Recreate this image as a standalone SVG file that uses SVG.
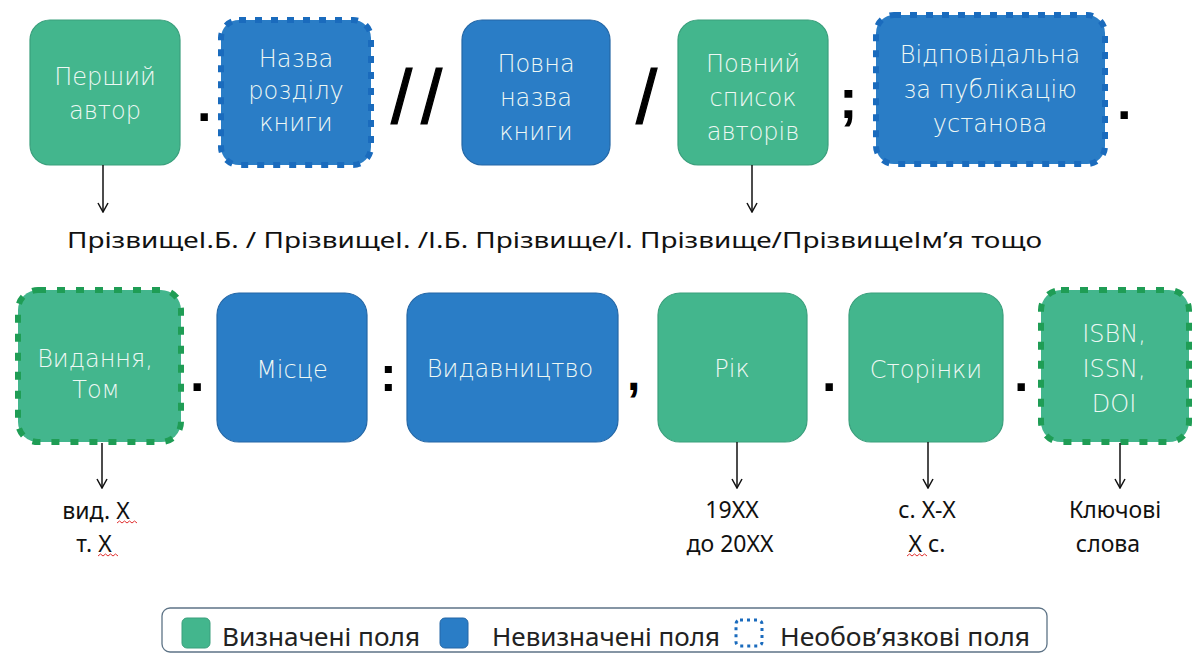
<svg xmlns="http://www.w3.org/2000/svg" width="1192" height="653" viewBox="0 0 1192 653">
<defs>
<style>
.g{fill:#43b68d;stroke:#3a9f7c;stroke-width:1.2}
.b{fill:#2a7dc6;stroke:#2467a6;stroke-width:1.2}
.gd{fill:#43b68d;stroke:#1f9d55;stroke-width:6;stroke-dasharray:8 11}
.bd{fill:#2a7dc6;stroke:#1a6bbd;stroke-width:6;stroke-dasharray:7 9}
.t{font-family:"DejaVu Sans","Noto Sans",sans-serif;font-weight:200;font-size:24px;fill:#eef8f4;text-anchor:middle}
.p{font-family:"Liberation Sans",Arial,sans-serif;font-weight:bold;fill:#000}
.s{font-family:"Liberation Sans",Arial,sans-serif;fill:#000;stroke:#000;stroke-width:1.2}
.l{font-family:"Noto Sans","DejaVu Sans",sans-serif;font-size:23px;fill:#111;text-anchor:middle}
.lg{font-family:"Noto Sans","DejaVu Sans",sans-serif;font-size:26px;fill:#222}
.c{stroke:#111;stroke-width:1.5;fill:none}
.sq{fill:none;stroke:#e03030;stroke-width:1}
</style>
<marker id="ah" viewBox="0 0 12 12" refX="11" refY="6" markerWidth="12" markerHeight="12" markerUnits="userSpaceOnUse" orient="auto">
<path d="M2,1 L11,6 L2,11" fill="none" stroke="#111" stroke-width="1.5"/>
</marker>
</defs>
<rect width="1192" height="653" fill="#fff"/>

<g id="n1"><rect class="g" x="30" y="20" width="150" height="145" rx="20"/><text class="t" x="105" y="85">Перший</text><text class="t" x="105" y="119">автор</text></g>
<g id="n2"><rect class="bd" x="221" y="20" width="150" height="145" rx="18"/><text class="t" x="296" y="67">Назва</text><text class="t" x="296" y="99">розділу</text><text class="t" x="296" y="131">книги</text></g>
<g id="n3"><rect class="b" x="462" y="20" width="148" height="145" rx="20"/><text class="t" x="536" y="72">Повна</text><text class="t" x="536" y="106">назва</text><text class="t" x="536" y="140">книги</text></g>
<g id="n4"><rect class="g" x="678" y="20" width="150" height="145" rx="20"/><text class="t" x="753" y="72">Повний</text><text class="t" x="753" y="106">список</text><text class="t" x="753" y="140">авторів</text></g>
<g id="n5"><rect class="bd" x="876" y="15" width="229" height="149" rx="18"/><text class="t" x="990" y="63">Відповідальна</text><text class="t" x="990" y="98">за публікацію</text><text class="t" x="990" y="132">установа</text></g>

<g id="n6"><rect class="gd" x="18" y="290" width="163" height="152" rx="20"/><text class="t" x="95" y="367">Видання,</text><text class="t" x="96" y="398">Том</text></g>
<g id="n7"><rect class="b" x="217" y="293" width="150" height="149" rx="22"/><text class="t" x="292" y="378">Місце</text></g>
<g id="n8"><rect class="b" x="407" y="293" width="211" height="149" rx="22"/><text class="t" x="510" y="377">Видавництво</text></g>
<g id="n9"><rect class="g" x="658" y="293" width="149" height="149" rx="22"/><text class="t" x="732" y="377">Рік</text></g>
<g id="n10"><rect class="g" x="849" y="293" width="154" height="149" rx="22"/><text class="t" x="926" y="378">Сторінки</text></g>
<g id="n11"><rect class="gd" x="1041" y="290" width="148" height="152" rx="20"/><text class="t" x="1114" y="342">ISBN,</text><text class="t" x="1114" y="377">ISSN,</text><text class="t" x="1114" y="412">DOI</text></g>

<g id="punct">
<text class="p" x="197" y="121" font-size="52">.</text>
<text class="s" x="391" y="123" font-size="76" letter-spacing="9">//</text>
<text class="s" x="636" y="123" font-size="76">/</text>
<text class="p" x="839" y="118" font-size="56">;</text>
<text class="p" x="1117" y="119" font-size="52">.</text>
<text class="p" x="190" y="391" font-size="52">.</text>
<text class="p" x="380" y="391" font-size="50">:</text>
<text class="p" x="627" y="390" font-size="48">,</text>
<text class="p" x="822" y="391" font-size="52">.</text>
<text class="p" x="1014" y="391" font-size="52">.</text>
</g>

<g id="connectors">
<line class="c" x1="103" y1="165" x2="103" y2="212" marker-end="url(#ah)"/>
<line class="c" x1="752" y1="165" x2="752" y2="212" marker-end="url(#ah)"/>
<line class="c" x1="102" y1="443" x2="102" y2="488" marker-end="url(#ah)"/>
<line class="c" x1="737" y1="442" x2="737" y2="488" marker-end="url(#ah)"/>
<line class="c" x1="928" y1="442" x2="928" y2="488" marker-end="url(#ah)"/>
<line class="c" x1="1120" y1="443" x2="1120" y2="488" marker-end="url(#ah)"/>
</g>

<g id="labels">
<text x="67" y="248" font-family="Noto Sans, DejaVu Sans, sans-serif" font-size="21" fill="#111" textLength="975" lengthAdjust="spacingAndGlyphs">ПрізвищеІ.Б. / ПрізвищеІ. /І.Б. Прізвище/І. Прізвище/ПрізвищеІм’я тощо</text>
<text class="l" x="96" y="519">вид. Х</text>
<text class="l" x="94" y="552">т. Х</text>
<text class="l" x="732" y="518">19XX</text>
<text class="l" x="730" y="552">до 20XX</text>
<text class="l" x="927" y="518">с. Х-Х</text>
<text class="l" x="927" y="552">Х с.</text>
<text class="l" x="1115" y="518">Ключові</text>
<text class="l" x="1108" y="552">слова</text>
<path class="sq" d="M117,523 l2.5,-2 2.5,2 2.5,-2 2.5,2 2.5,-2 2.5,2 2.5,-2 2.5,2"/>
<path class="sq" d="M98,556 l2.5,-2 2.5,2 2.5,-2 2.5,2 2.5,-2 2.5,2 2.5,-2 2.5,2"/>
<path class="sq" d="M907,556 l2.5,-2 2.5,2 2.5,-2 2.5,2 2.5,-2 2.5,2 2.5,-2 2.5,2"/>
</g>

<g id="legend">
<rect x="162" y="608" width="885" height="44" rx="8" fill="#fff" stroke="#5d7386" stroke-width="1.3"/>
<rect x="182" y="618" width="28" height="30" rx="5" fill="#43b68d" stroke="#3a9f7c"/>
<text class="lg" x="222" y="646" textLength="198" lengthAdjust="spacingAndGlyphs">Визначені поля</text>
<rect x="440" y="618" width="28" height="30" rx="5" fill="#2a7dc6" stroke="#2467a6"/>
<text class="lg" x="492" y="646" textLength="228" lengthAdjust="spacingAndGlyphs">Невизначені поля</text>
<rect x="736" y="620" width="26" height="26" rx="4" fill="none" stroke="#1a6bbd" stroke-width="3" stroke-dasharray="3 4"/>
<text class="lg" x="780" y="646" textLength="250" lengthAdjust="spacingAndGlyphs">Необов’язкові поля</text>
</g>
</svg>
